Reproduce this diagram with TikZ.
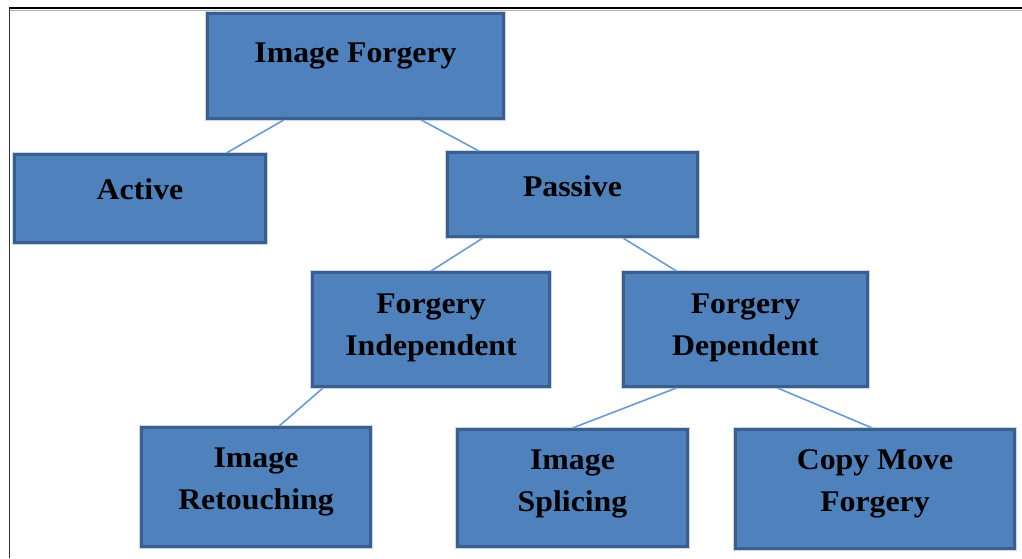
\documentclass[tikz,border=0pt]{standalone}
\usepackage{fontspec}
\setmainfont{Liberation Serif}[FakeStretch=1.06]
\usetikzlibrary{calc}
\definecolor{boxfill}{HTML}{4F81BD}
\definecolor{boxedge}{HTML}{3A5F8E}
\definecolor{boxhalo}{HTML}{C9D7EA}
\definecolor{linkcol}{HTML}{6A9BD3}
\tikzset{
  box/.style={rectangle, fill=boxfill, draw=boxedge, line width=3pt,
    preaction={draw=boxhalo, line width=5pt}, inner sep=0pt},
  lbl/.style={font=\bfseries\fontsize{30}{42}\selectfont, align=center, inner sep=0pt, text=black},
  link/.style={draw=linkcol, line width=1.6pt},
  frame/.style={draw=black, line width=2pt},
  frameside/.style={draw=black!80, line width=1.4pt}
}
\begin{document}
\begin{tikzpicture}[x=1pt,y=-1pt]
\useasboundingbox (0,0) rectangle (1022,558);
\fill[white] (0,0) rectangle (1022,558);
\draw[gray!60, line width=1.5pt] (9,10.5) -- (1022,10.5);
\draw[frame] (9,8) -- (1022,8);
\draw[frameside] (9.5,8) -- (9.5,558);

% boxes
\node[box, minimum width=296pt, minimum height=105pt] (if)  at (355.5,66) {};
\node[box, minimum width=251pt, minimum height=88pt]  (act) at (140,198.5) {};
\node[box, minimum width=250pt, minimum height=84pt]  (pas) at (572.5,194.5) {};
\node[box, minimum width=237pt, minimum height=114pt] (fi)  at (431,329.5) {};
\node[box, minimum width=244pt, minimum height=114pt] (fd)  at (745.5,329.5) {};
\node[box, minimum width=229pt, minimum height=119pt] (ir)  at (256,487) {};
\node[box, minimum width=230pt, minimum height=117pt] (is)  at (572.5,488) {};
\node[box, minimum width=279pt, minimum height=119pt] (cm)  at (875,489) {};

% labels
\node[lbl] (tif)  at (355.5,56) {Image Forgery};
\node[lbl] (tact) at (140,189) {Active};
\node[lbl] (tpas) at (572.5,186) {Passive};
\node[lbl] (tfi)  at (431,328) {Forgery\\Independent};
\node[lbl] (tfd)  at (745.5,328) {Forgery\\Dependent};
\node[lbl] (tir)  at (256,482) {Image\\Retouching};
\node[lbl] (tis)  at (572.5,484) {Image\\Splicing};
\node[lbl] (tcm)  at (875,484) {Copy Move\\Forgery};

% connectors
\draw[link] ($(if.south west)!0.26!(if.south east)$) -- ($(act.north west)!0.84!(act.north east)$);
\draw[link] ($(if.south west)!0.72!(if.south east)$) -- ($(pas.north west)!0.13!(pas.north east)$);
\draw[link] ($(pas.south west)!0.146!(pas.south east)$) -- ($(fi.north west)!0.50!(fi.north east)$);
\draw[link] ($(pas.south west)!0.70!(pas.south east)$) -- ($(fd.north west)!0.22!(fd.north east)$);
\draw[link] ($(fi.south west)!0.05!(fi.south east)$) -- ($(ir.north west)!0.60!(ir.north east)$);
\draw[link] ($(fd.south west)!0.22!(fd.south east)$) -- ($(is.north west)!0.50!(is.north east)$);
\draw[link] ($(fd.south west)!0.63!(fd.south east)$) -- ($(cm.north west)!0.49!(cm.north east)$);
\end{tikzpicture}
\end{document}
